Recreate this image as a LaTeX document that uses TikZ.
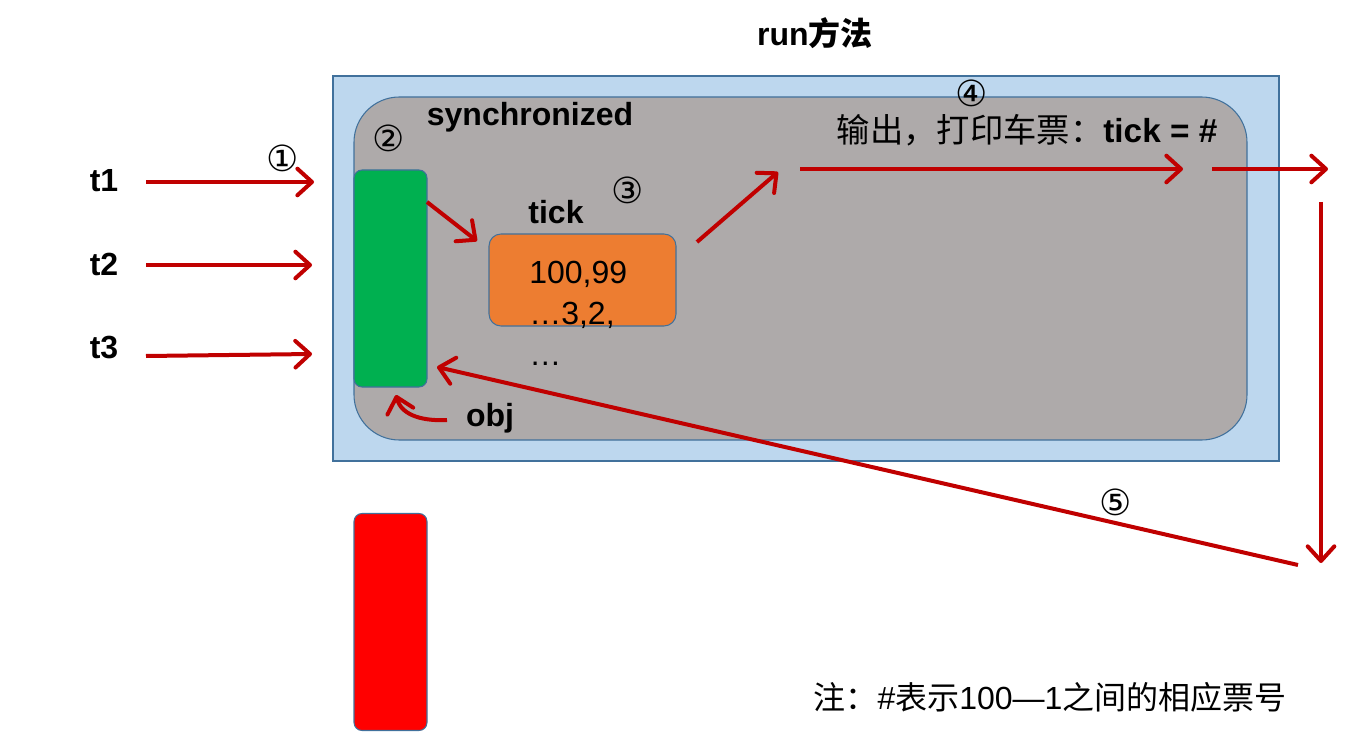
\documentclass[tikz,border=0pt]{standalone}
\usepackage{fontspec}
\setmainfont{Liberation Sans}
\newfontfamily\cjk{Noto Sans CJK SC}
\newfontfamily\circfont{DejaVu Sans}
\usetikzlibrary{positioning,arrows.meta,calc}
\definecolor{edgeblue}{RGB}{65,113,156}
\definecolor{paleblue}{RGB}{189,215,238}
\definecolor{syncgray}{RGB}{174,170,170}
\definecolor{lockgreen}{RGB}{0,176,80}
\definecolor{tickorange}{RGB}{237,125,49}
\definecolor{arrred}{RGB}{192,0,0}

\begin{document}
\begin{tikzpicture}[x=0.75pt, y=-0.75pt,
  font=\fontsize{24}{30}\selectfont,
  lbl/.style={font=\fontsize{24}{30}\selectfont\bfseries, inner sep=0pt},
  num/.style={font=\fontsize{27}{30}\selectfont\circfont, inner sep=0pt},
  lock/.style={draw=edgeblue, thick, rounded corners=6pt, minimum width=73*0.75pt, minimum height=217*0.75pt, inner sep=0pt},
  arr/.style={-{Straight Barb[length=11pt, width=20pt, round]}, arrred, line width=3pt},
  node distance=4mm and 7mm]
\useasboundingbox (0,0) rectangle (1368,738);
% run method frame
\node (title) at (815,33) {\textbf{run}{\cjk\bfseries 方法}};
\node[draw=edgeblue, thick, fill=paleblue, minimum width=946*0.75pt, minimum height=385*0.75pt] (run) at (806,268.5) {};
\node[draw=edgeblue, thick, fill=syncgray, rounded corners=34pt, minimum width=893*0.75pt, minimum height=343*0.75pt] (sync) at (800.5,268.5) {};
\node[lbl] (synclbl) at (530,117) {synchronized};
% locks
\node[lock, fill=lockgreen] (lock) at (390.5,278.5) {};
\node[lock, fill=red] (wait) at (390.5,622) {};
% tickets
\node[draw=edgeblue, thick, fill=tickorange, rounded corners=9pt, minimum width=187*0.75pt, minimum height=92*0.75pt] (tick) at (582.5,280) {};
\node[lbl] (ticklbl) at (556,212) {tick};
\node[anchor=north west, align=left, inner sep=0pt, font=\fontsize{24}{30.75}\selectfont] (tickval) at (529,261) {100,99\\…3,2,\\…};
\node[inner sep=0pt, font=\fontsize{25}{30}\selectfont] (out) at (1027,130) {{\cjk 输出，打印车票：}\textbf{tick = \#}};
% threads
\node[lbl] (t1) at (104,181) {t1};
\node[lbl] (t2) at (104,264) {t2};
\node[lbl] (t3) at (104,348) {t3};
\node[lbl] (obj) at (490,418) {obj};
% step numbers
\node[num] (n1) at (283,158) {①};
\node[num] (n2) at (389,138) {②};
\node[num] (n3) at (628,190) {③};
\node[num] (n4) at (972,93) {④};
\node[num] (n5) at (1116,502) {⑤};
\node (note) at (1050,697) {{\cjk 注：}\#{\cjk 表示}100—1{\cjk 之间的相应票号}};
% arrow ends
\coordinate (t1a) at (146,182); \coordinate (t1b) at (314,182);
\coordinate (t2a) at (146,265); \coordinate (t2b) at (312,265);
\coordinate (t3a) at (146,356); \coordinate (t3b) at (312,354);
\coordinate (lk) at (427,202); \coordinate (tk) at (477,241);
\coordinate (up1) at (697,242); \coordinate (up2) at (778,172);
\coordinate (pr1) at (800,169); \coordinate (pr2) at (1183,169);
\coordinate (ex1) at (1212,169); \coordinate (ex2) at (1328,169);
\coordinate (dn1) at (1321,202); \coordinate (dn2) at (1321,563);
\coordinate (bk1) at (1298,565); \coordinate (bk2) at (437,367);
\coordinate (ob1) at (447,420); \coordinate (ob2) at (396,395);
\draw[arr] (t1a) -- (t1b);
\draw[arr] (t2a) -- (t2b);
\draw[arr] (t3a) -- (t3b);
\draw[arr] (lk) -- (tk);
\draw[arr] (up1) -- (up2);
\draw[arr] (pr1) -- (pr2);
\draw[arr] (ex1) -- (ex2);
\draw[arr] (dn1) -- (dn2);
\draw[arr] (bk1) -- (bk2);
\draw[arr] (ob1) to[out=183, in=-75] (ob2);
\end{tikzpicture}
\end{document}
